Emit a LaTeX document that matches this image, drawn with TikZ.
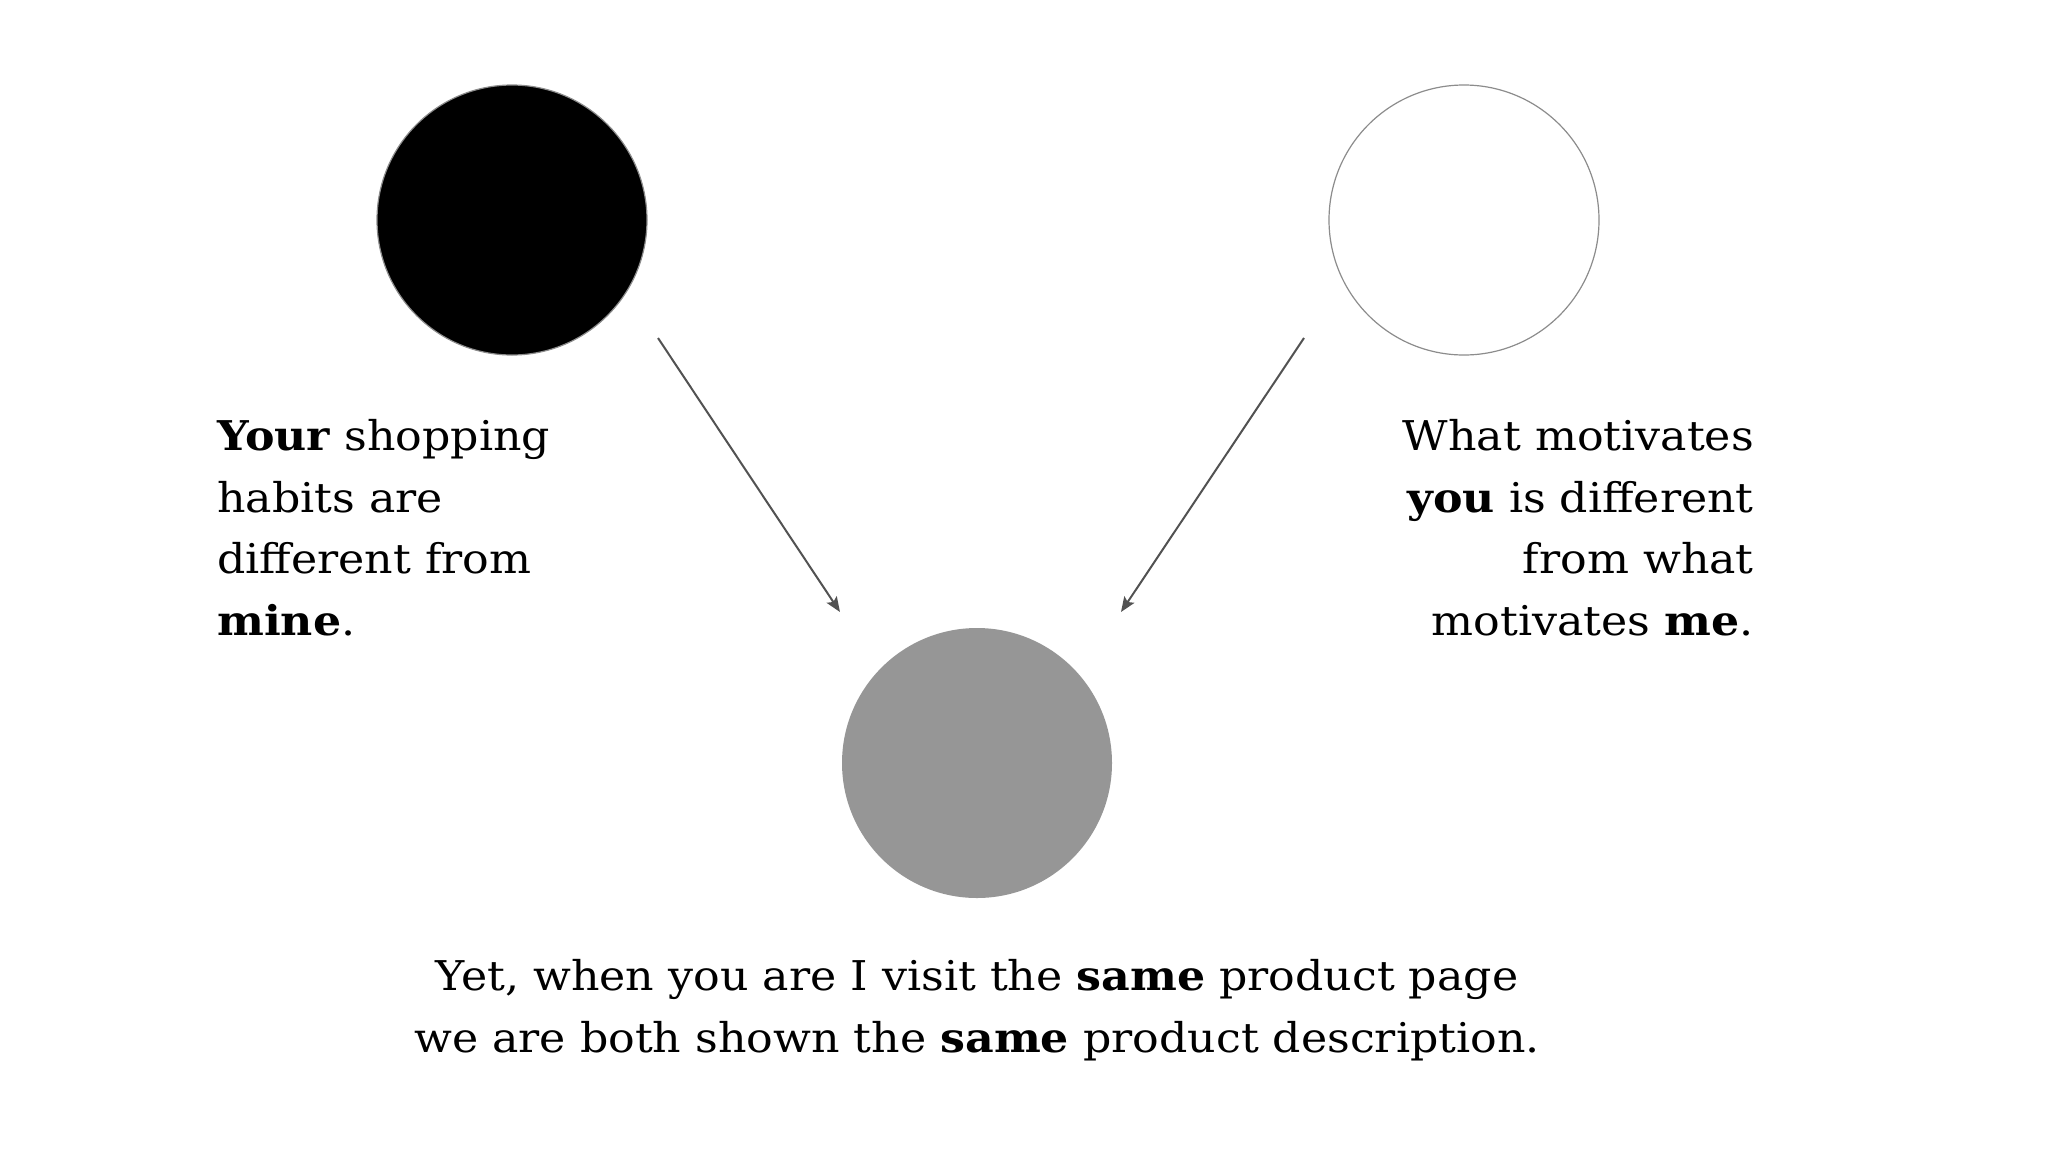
\documentclass[tikz,border=0pt]{standalone}
\usepackage{fontspec}
\setmainfont{DejaVu Serif}[FakeStretch=1.08]
\usetikzlibrary{arrows.meta}
\tikzset{
  dot/.style={circle, minimum size=270pt, inner sep=0pt, line width=1.2pt},
  txt/.style={inner sep=0pt, font=\fontsize{41}{61.5}\selectfont},
  arr/.style={draw=black!68, line width=2pt, -{Stealth[length=15pt,width=12pt,inset=3pt]}}
}
\begin{document}
\begin{tikzpicture}[x=1pt,y=-1pt]
\useasboundingbox (0,0) rectangle (2048,1152);
\node[dot, fill=black, draw=black!45] (black) at (512,220) {};
\node[dot, fill=white, draw=black!45] (white) at (1464,220) {};
\node[dot, fill=black!41, draw=none] (gray) at (977,763) {};
\coordinate (a1) at (658,338);
\coordinate (a2) at (840,612);
\coordinate (b1) at (1304,338);
\coordinate (b2) at (1121,612);
\draw[arr] (a1) -- (a2);
\draw[arr] (b1) -- (b2);
\node[txt, anchor=north west, align=left] (left) at (217,419.5)
  {\textbf{Your} shopping\\habits are\\different from\\\textbf{mine}.};
\node[txt, anchor=north east, align=right] (right) at (1754,419.5)
  {What motivates\\\textbf{you} is different\\from what\\motivates \textbf{me}.};
\node[txt, anchor=north, align=center] (bottom) at (977,959.5)
  {Yet, when you are I visit the \textbf{same} product page\\we are both shown the \textbf{same} product description.};
\end{tikzpicture}
\end{document}
